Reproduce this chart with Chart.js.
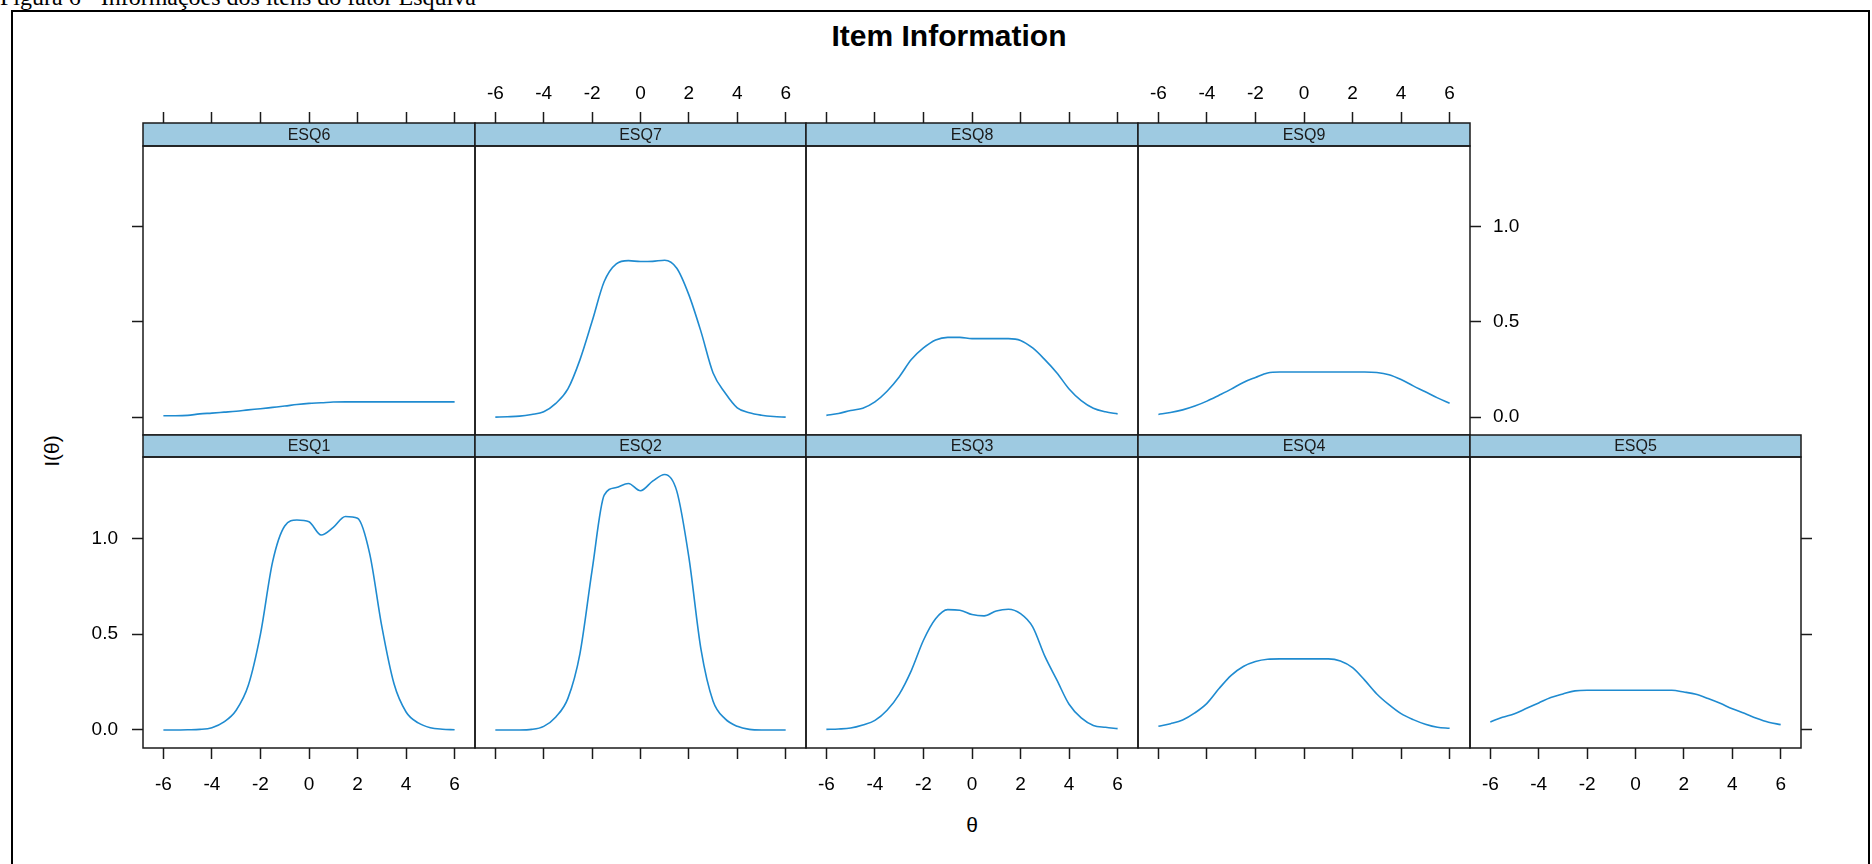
<!DOCTYPE html>
<html>
<head>
<meta charset="utf-8">
<title>Item Information</title>
<script src="https://cdn.jsdelivr.net/npm/chart.js@4/dist/chart.umd.min.js"></script>
<style>
  html, body { margin: 0; padding: 0; background: #fff; }
  body { width: 1872px; height: 864px; overflow: hidden; position: relative;
         font-family: "Liberation Sans", Arial, sans-serif; color: #000; }
  .caption { position: absolute; left: 0; top: -15px; white-space: nowrap; line-height: 24px;
             font-family: "Liberation Serif", "Times New Roman", serif; font-size: 24px; }
  .frame { position: absolute; left: 11px; top: 10px; width: 1859px; height: 900px;
           border: 2px solid #000; box-sizing: border-box; }
  .main-title { position: absolute; left: 949px; top: 36px; transform: translate(-50%, -50%);
                font-weight: bold; font-size: 30px; white-space: nowrap; }
  .x-title { position: absolute; left: 972px; top: 825px; transform: translate(-50%, -50%);
             font-size: 21px; }
  .y-title { position: absolute; left: 52px; top: 451px; transform: translate(-50%, -50%) rotate(-90deg);
             font-size: 21px; white-space: nowrap; }
  canvas { position: absolute; }
</style>
</head>
<body>
<div class="caption">Figura 6 - Informações dos itens do fator Esquiva</div>
<div class="frame"></div>
<div class="main-title">Item Information</div>
<div class="x-title">θ</div>
<div class="y-title">I(θ)</div>

<script>
// Ability grid (theta) shared by every item curve
const theta = [-6, -5.5, -5, -4.5, -4, -3.5, -3, -2.5, -2, -1.5, -1, -0.5, 0,
               0.5, 1, 1.5, 2, 2.5, 3, 3.5, 4, 4.5, 5, 5.5, 6];

// Item information I(theta) for each item of the factor
const esq1 = [0.000, 0.000, 0.001, 0.003, 0.012, 0.042, 0.103, 0.233, 0.500, 0.877, 1.064, 1.095, 1.086,
              1.017, 1.057, 1.114, 1.104, 0.920, 0.540, 0.242, 0.094, 0.037, 0.012, 0.004, 0.001];
const esq2 = [0.000, 0.000, 0.000, 0.003, 0.019, 0.068, 0.165, 0.400, 0.834, 1.225, 1.265, 1.286, 1.248,
              1.298, 1.333, 1.246, 0.900, 0.420, 0.150, 0.058, 0.019, 0.003, 0.000, 0.000, 0.000];
const esq3 = [0.003, 0.005, 0.010, 0.026, 0.050, 0.103, 0.186, 0.310, 0.468, 0.580, 0.628, 0.625, 0.602,
              0.595, 0.621, 0.630, 0.607, 0.538, 0.385, 0.260, 0.134, 0.063, 0.024, 0.014, 0.007];
const esq4 = [0.019, 0.033, 0.052, 0.089, 0.139, 0.216, 0.285, 0.331, 0.357, 0.369, 0.371, 0.371, 0.371,
              0.371, 0.371, 0.360, 0.325, 0.260, 0.188, 0.132, 0.085, 0.054, 0.030, 0.014, 0.009];
const esq5 = [0.042, 0.066, 0.085, 0.113, 0.141, 0.169, 0.188, 0.204, 0.207, 0.207, 0.207, 0.207, 0.207,
              0.207, 0.207, 0.207, 0.198, 0.186, 0.164, 0.139, 0.111, 0.087, 0.061, 0.040, 0.028];
const esq6 = [0.007, 0.007, 0.009, 0.017, 0.021, 0.026, 0.031, 0.038, 0.044, 0.051, 0.058, 0.066, 0.072,
              0.075, 0.079, 0.080, 0.080, 0.080, 0.080, 0.080, 0.080, 0.080, 0.080, 0.080, 0.080];
const esq7 = [0.000, 0.002, 0.005, 0.014, 0.028, 0.072, 0.148, 0.302, 0.503, 0.712, 0.805, 0.822, 0.817,
              0.818, 0.824, 0.782, 0.642, 0.449, 0.232, 0.127, 0.049, 0.023, 0.010, 0.003, 0.000];
const esq8 = [0.009, 0.019, 0.035, 0.047, 0.080, 0.136, 0.211, 0.302, 0.363, 0.405, 0.419, 0.419, 0.412,
              0.412, 0.412, 0.412, 0.403, 0.363, 0.302, 0.232, 0.148, 0.087, 0.047, 0.028, 0.017];
const esq9 = [0.014, 0.024, 0.038, 0.058, 0.084, 0.115, 0.147, 0.182, 0.208, 0.232, 0.237, 0.237, 0.237,
              0.237, 0.237, 0.237, 0.237, 0.237, 0.234, 0.222, 0.197, 0.164, 0.133, 0.101, 0.073];

// Tick values and axis limits
const thetaTicks = [-6, -4, -2, 0, 2, 4, 6];
const infoTicks = [0.0, 0.5, 1.0];
const thetaLimits = [-6.84, 6.84];
const infoLimits = [-0.094, 1.424];

// Trellis arrangement: which item sits where and which axis annotations it carries
const panels = [
  { label: 'ESQ6', values: esq6, row: 0, col: 0, xLabels: false, yAxis: 'left',  yLabels: false },
  { label: 'ESQ7', values: esq7, row: 0, col: 1, xLabels: true,  yAxis: null,    yLabels: false },
  { label: 'ESQ8', values: esq8, row: 0, col: 2, xLabels: false, yAxis: null,    yLabels: false },
  { label: 'ESQ9', values: esq9, row: 0, col: 3, xLabels: true,  yAxis: 'right', yLabels: true  },
  { label: 'ESQ1', values: esq1, row: 1, col: 0, xLabels: true,  yAxis: 'left',  yLabels: true  },
  { label: 'ESQ2', values: esq2, row: 1, col: 1, xLabels: false, yAxis: null,    yLabels: false },
  { label: 'ESQ3', values: esq3, row: 1, col: 2, xLabels: true,  yAxis: null,    yLabels: false },
  { label: 'ESQ4', values: esq4, row: 1, col: 3, xLabels: false, yAxis: null,    yLabels: false },
  { label: 'ESQ5', values: esq5, row: 1, col: 4, xLabels: true,  yAxis: 'right', yLabels: false }
];

// Page geometry of the panel grid
const colEdges = [143, 475, 806, 1138, 1470, 1801];
const rowGeom = [
  { stripTop: 123, plotTop: 146, plotBottom: 435 },
  { stripTop: 435, plotTop: 457, plotBottom: 748 }
];

const INK = '#1a1a1a';
const LINE = '#1f8bd0';
const STRIP = '#9ecae1';
const FONT = '"Liberation Sans", Arial, sans-serif';
const PAD = 30, Y_AXIS_W = 75, X_AXIS_H = 50;

// Draws the strip with the item name and the box around each panel
const panelStrip = {
  id: 'panelStrip',
  afterDraw(chart, args, opts) {
    const { ctx, chartArea } = chart;
    const s = chart.scales.strip;
    const { left, right, top, bottom } = chartArea;
    ctx.save();
    ctx.fillStyle = STRIP;
    ctx.fillRect(left, s.top, right - left, s.bottom - s.top);
    ctx.strokeStyle = INK;
    ctx.lineWidth = 1.5;
    ctx.strokeRect(left, s.top, right - left, s.bottom - s.top);
    ctx.strokeRect(left, top, right - left, bottom - top);
    ctx.fillStyle = '#1a1a1a';
    ctx.font = '16px ' + FONT;
    ctx.textAlign = 'center';
    ctx.textBaseline = 'middle';
    ctx.fillText(opts.label, (left + right) / 2, (s.top + s.bottom) / 2 + 1);
    ctx.restore();
  }
};

panels.forEach(p => {
  const g = rowGeom[p.row];
  const stripH = g.plotTop - g.stripTop;
  const plotW = colEdges[p.col + 1] - colEdges[p.col];
  const plotH = g.plotBottom - g.plotTop;
  const xOnTop = p.row === 0;
  const yW = p.yAxis ? Y_AXIS_W : 0;
  const padL = PAD + (p.yAxis === 'left' ? yW : 0);
  const padR = PAD + (p.yAxis === 'right' ? yW : 0);
  const padT = PAD + stripH + (xOnTop ? X_AXIS_H : 0);
  const padB = PAD + (xOnTop ? 0 : X_AXIS_H);

  const cv = document.createElement('canvas');
  cv.width = plotW + padL + padR;
  cv.height = plotH + padT + padB;
  cv.style.left = (colEdges[p.col] - padL) + 'px';
  cv.style.top = (g.plotTop - padT) + 'px';
  document.body.appendChild(cv);

  new Chart(cv, {
    type: 'line',
    data: {
      datasets: [{
        data: theta.map((t, i) => ({ x: t, y: p.values[i] })),
        xAxisID: 'x', yAxisID: 'y',
        borderColor: LINE, borderWidth: 1.6,
        pointRadius: 0, fill: false,
        cubicInterpolationMode: 'monotone'
      }]
    },
    options: {
      responsive: false, animation: false, devicePixelRatio: 1, events: [],
      layout: { padding: PAD, autoPadding: false },
      plugins: { legend: { display: false }, tooltip: { enabled: false }, panelStrip: { label: p.label } },
      scales: {
        x: {
          type: 'linear', position: xOnTop ? 'top' : 'bottom', weight: 10,
          min: thetaLimits[0], max: thetaLimits[1],
          afterBuildTicks: s => { s.ticks = thetaTicks.map(v => ({ value: v })); },
          afterFit: s => { s.height = X_AXIS_H; },
          grid: { drawOnChartArea: false, drawTicks: true, tickLength: 11, tickWidth: 1.5, tickColor: INK },
          border: { display: false },
          ticks: { display: p.xLabels, color: '#000', font: { family: FONT, size: 19 },
                   padding: xOnTop ? 7 : 14, maxRotation: 0, autoSkip: false, callback: v => String(v) }
        },
        strip: {
          type: 'linear', position: 'top', weight: 1,
          afterFit: s => { s.height = stripH; },
          grid: { display: false }, border: { display: false }, ticks: { display: false }
        },
        y: {
          type: 'linear', position: p.yAxis || 'left', display: !!p.yAxis,
          min: infoLimits[0], max: infoLimits[1],
          afterBuildTicks: s => { s.ticks = infoTicks.map(v => ({ value: v })); },
          afterFit: s => { s.width = yW; },
          grid: { drawOnChartArea: false, drawTicks: true, tickLength: 11, tickWidth: 1.5, tickColor: INK },
          border: { display: false },
          ticks: { display: p.yLabels, color: '#000', font: { family: FONT, size: 19 },
                   padding: p.yAxis === 'left' ? 14 : 12, callback: v => v.toFixed(1) }
        }
      }
    },
    plugins: [panelStrip]
  });
});
</script>
</body>
</html>
